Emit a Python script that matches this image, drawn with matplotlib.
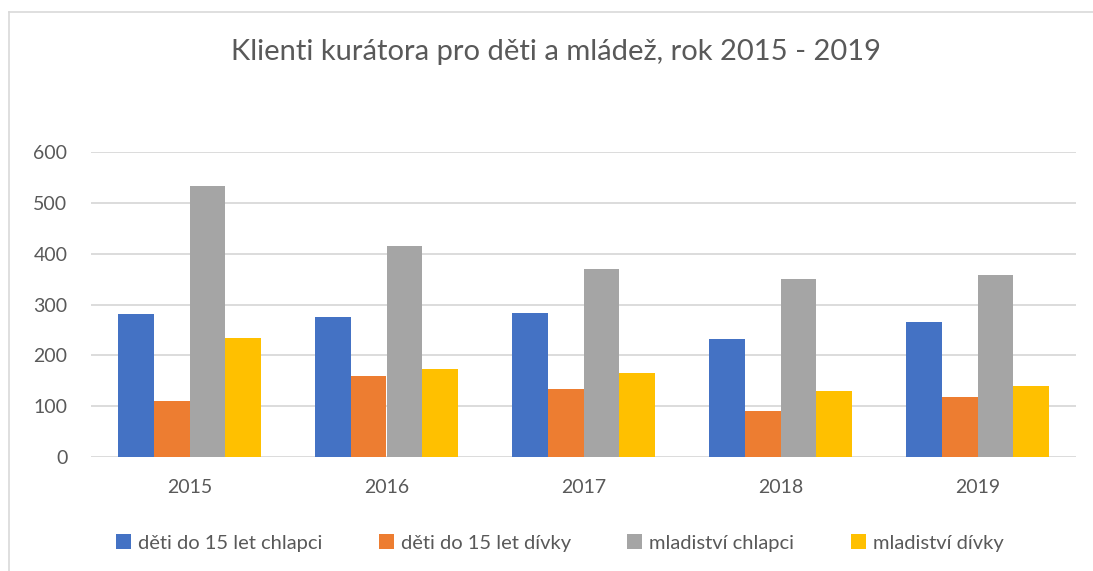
import numpy as np
import matplotlib
matplotlib.use("Agg")
import matplotlib.pyplot as plt
from matplotlib.lines import Line2D

# Data
years = ["2015", "2016", "2017", "2018", "2019"]
series_names = ["děti do 15 let chlapci", "děti do 15 let dívky",
                "mladiství chlapci", "mladiství dívky"]
boys_u15 = [281, 276, 284, 232, 266]
girls_u15 = [110, 160, 133, 90, 119]
boys_youth = [534, 415, 369, 350, 358]
girls_youth = [235, 174, 166, 130, 139]
colors = ["#4472C4", "#ED7D31", "#A5A5A5", "#FFC000"]

plt.rcParams['font.family'] = ['Lato', 'DejaVu Sans']
txt = "#595959"

fig = plt.figure(figsize=(10.93, 5.71), dpi=100)
ax = fig.add_axes([91/1093, 1 - 457/571, (1076 - 91)/1093, (457 - 152)/571])

x = np.arange(len(years))
w = 1 / 5.5
data = [boys_u15, girls_u15, boys_youth, girls_youth]
for i, (vals, c, name) in enumerate(zip(data, colors, series_names)):
    ax.bar(x + (i - 1.5) * w, vals, w, color=c, label=name, zorder=3)

ax.set_xlim(-0.5, len(years) - 0.5)
ax.set_ylim(0, 600)
ax.set_yticks(range(0, 601, 100))
ax.set_xticks(x)
ax.set_xticklabels(years)
ax.grid(axis="y", color="#D9D9D9", linewidth=1.3, zorder=0)
for s in ax.spines.values():
    s.set_visible(False)
ax.tick_params(axis="both", length=0, labelsize=14, labelcolor=txt)
ax.tick_params(axis="y", pad=17)
ax.tick_params(axis="x", pad=16)

fig.text(0.509, 1 - 52/571, "Klienti kurátora pro děti a mládež, rok 2015 - 2019",
         ha="center", va="center", fontsize=21, color=txt)

fig.legend(loc="center", bbox_to_anchor=(0.512, 1 - 543/571), ncol=4,
           frameon=False, fontsize=14.5, labelcolor=txt, handlelength=0.75,
           handleheight=0.75, handletextpad=0.35, columnspacing=2.8)

# chart area border
fig.add_artist(Line2D([9/1093, 9/1093], [0, 1 - 12/571], color="#D9D9D9",
                      linewidth=1.2, transform=fig.transFigure))
fig.add_artist(Line2D([9/1093, 1], [1 - 12/571, 1 - 12/571], color="#D9D9D9",
                      linewidth=1.2, transform=fig.transFigure))

fig.savefig("out.png", dpi=100)
